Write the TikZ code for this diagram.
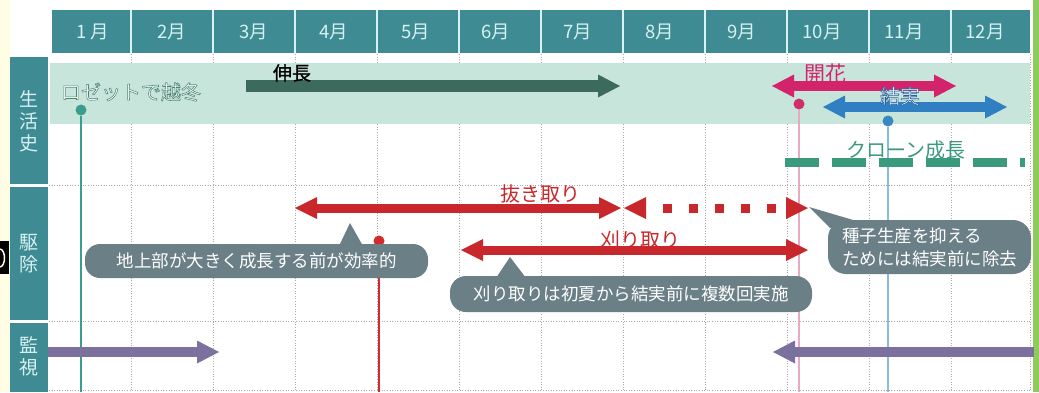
\documentclass[tikz,border=0pt]{standalone}
\usepackage{fontspec}
\newfontfamily\jp{Noto Sans CJK JP}
\newfontfamily\jpb[FakeBold=1.2]{Noto Sans CJK JP}
\usetikzlibrary{arrows.meta}
\definecolor{hdr}{HTML}{3F8B93}
\definecolor{hdrtxt}{HTML}{D6F1F2}
\definecolor{hdrsep}{HTML}{D8F4F6}
\definecolor{band}{HTML}{C8E5DC}
\definecolor{growc}{HTML}{3C6A5D}
\definecolor{pinkc}{HTML}{D3246B}
\definecolor{bluec}{HTML}{2F7FC2}
\definecolor{clonec}{HTML}{3B9A7C}
\definecolor{redc}{HTML}{C8282B}
\definecolor{callc}{HTML}{6B7F87}
\definecolor{purc}{HTML}{7B709E}
\definecolor{gridc}{HTML}{ABABAB}
\definecolor{tealline}{HTML}{3A9E8E}
\definecolor{pinkline}{HTML}{E9A9C2}
\definecolor{pinkdot}{HTML}{D0306A}
\definecolor{blueline}{HTML}{86BCDD}
\definecolor{bluedot}{HTML}{3A88C0}
\definecolor{reddot}{HTML}{D42A2A}
\definecolor{yel}{HTML}{FFFDE3}
\definecolor{rgreen}{HTML}{8DCB5C}
\newcommand\olstroke[2]{\special{pdf:literal direct 2 Tr #2 w #1 RG}}
\newcommand\olreset{\special{pdf:literal direct 0 Tr}}
\begin{document}
\begin{tikzpicture}[x=1pt,y=-1pt,
  grid/.style={gridc, line width=0.9pt, dash pattern=on 1pt off 1.6pt},
  sepline/.style={hdrsep, line width=2pt},
  month/.style={text=hdrtxt, font=\jp\fontsize{18.5}{18.5}\selectfont, inner sep=0pt},
  lbl/.style={text=hdrtxt, align=center, inner sep=0pt, font=\jp\fontsize{19}{22}\selectfont},
  dot/.style={circle, inner sep=0pt, minimum size=11pt},
  vline/.style={line width=1.4pt},
  blk/.style={line width=#1, arrows={-Triangle[width=23pt,length=22pt,line width=0pt]}},
  dblk/.style={line width=#1, arrows={Triangle[width=23pt,length=22pt,line width=0pt]-Triangle[width=23pt,length=22pt,line width=0pt]}},
  rdblk/.style={line width=#1, arrows={Triangle[width=22pt,length=22pt,line width=0pt]-Triangle[width=22pt,length=22pt,line width=0pt]}},
  txt/.style={inner sep=0pt, font=\jp\fontsize{20}{20}\selectfont},
  callout/.style={fill=callc, text=white, inner sep=0pt, font=\jp\fontsize{17.5}{23}\selectfont},
  ptr/.style={fill=callc}
]
\useasboundingbox (0,0) rectangle (1039,392);
\fill[white] (0,0) rectangle (1039,392);
\fill[yel] (0,0) rectangle (10,392);
\fill[rgreen] (1033,0) rectangle (1039,392);
\fill[black] (0,241) rectangle (9,274);
\draw[yel,line width=1.5pt] (0,249) .. controls (6,250) and (6,266) .. (0,267);

% header
\fill[hdr] (52,10) rectangle (1030,53);
\foreach \x in {131,213,...,951} \draw[sepline] (\x,10) -- (\x,53);
\node[month] (m1) at (93,32) {1 月};
\node[month] (m2) at (172,32) {2月};
\node[month] (m3) at (254,32) {3月};
\node[month] (m4) at (334,32) {4月};
\node[month] (m5) at (416,32) {5月};
\node[month] (m6) at (496,32) {6月};
\node[month] (m7) at (578,32) {7月};
\node[month] (m8) at (660,32) {8月};
\node[month] (m9) at (742,32) {9月};
\node[month] (m10) at (822,32) {10月};
\node[month] (m11) at (904,32) {11月};
\node[month] (m12) at (985,32) {12月};

% label column
\fill[hdr] (10,57) rectangle (48,184);
\fill[hdr] (10,187) rectangle (48,320);
\fill[hdr] (10,323) rectangle (48,392);
\node[lbl] (l1) at (29,121) {生\\活\\史};
\node[lbl] (l2) at (29,254) {駆\\除};
\node[lbl] (l3) at (29,356) {監\\視};

% grid
\foreach \x in {131,213,...,951} \draw[grid] (\x,54) -- (\x,392);
\draw[grid] (1030,54) -- (1030,392);
\draw[grid] (49,185) -- (1030,185);
\draw[grid] (49,321) -- (1030,321);
\draw[grid] (49,390) -- (1030,390);

% band
\fill[band] (50,63) rectangle (1030,124);

% vertical markers
\coordinate (e1) at (81,392);
\coordinate (e2) at (799,392);
\coordinate (e3) at (888,392);
\coordinate (e4) at (379,392);
\node[dot, fill=tealline] (d1) at (81,110) {};
\node[dot, fill=pinkdot] (d2) at (799,104) {};
\node[dot, fill=bluedot] (d3) at (888,121) {};
\node[dot, fill=reddot] (d4) at (379,241) {};
\draw[vline, tealline] (d1) -- (e1);
\draw[vline, pinkline] (d2) -- (e2);
\draw[vline, blueline] (d3) -- (e3);
\draw[vline, reddot] (d4) -- (e4);

% arrows
\coordinate (g1) at (246,86); \coordinate (g2) at (620,86);
\draw[blk=12pt, growc] (g1) -- (g2);
\coordinate (p1) at (772,86); \coordinate (p2) at (956,86);
\draw[dblk=10pt, pinkc] (p1) -- (p2);
\coordinate (b1) at (823,107); \coordinate (b2) at (1007,107);
\draw[dblk=10pt, bluec] (b1) -- (b2);
\coordinate (c1a) at (785,162); \coordinate (c1b) at (1025,162);
\draw[clonec, line width=9pt, dash pattern=on 34pt off 13pt] (c1a) -- (c1b);

\coordinate (r1) at (295,208); \coordinate (r2) at (621,208);
\draw[rdblk=9pt, redc] (r1) -- (r2);
\coordinate (r3) at (624,208); \coordinate (r4) at (808,208);
\draw[rdblk=9pt, redc, dash pattern=on 9pt off 17pt, dash phase=9pt] (r3) -- (r4);
\coordinate (r5) at (461,250); \coordinate (r6) at (808,250);
\draw[rdblk=9pt, redc] (r5) -- (r6);

\coordinate (v1) at (48,352); \coordinate (v2) at (219,352);
\draw[blk=10pt, purc] (v1) -- (v2);
\coordinate (v3) at (1034,352); \coordinate (v4) at (773,352);
\draw[blk=10pt, purc] (v3) -- (v4);

% callouts
\fill[ptr] (339,246) -- (350,223) -- (363,246) -- cycle;
\node[callout, rounded corners=15pt, minimum width=343pt, minimum height=34pt] (k1) at (256.5,261) {地上部が大きく成長する前が効率的};
\fill[ptr] (496,278) -- (510,257) -- (526,278) -- cycle;
\node[callout, rounded corners=16pt, minimum width=362pt, minimum height=36pt] (k2) at (631,294) {刈り取りは初夏から結実前に複数回実施};
\fill[ptr] (830,228) -- (809,207) -- (860,222) -- cycle;
\node[callout, align=left, rounded corners=18pt, minimum width=203pt, minimum height=54pt] (k3) at (929.5,247) {種子生産を抑える\\ためには結実前に除去};

% texts
\node[txt, text=black, font=\jpb\fontsize{19}{19}\selectfont] (tg) at (292,73) {伸長};
\node[txt, text=white] (tr) at (131,92) {\olstroke{0.30 0.52 0.47}{0.55}ロゼットで越冬\olreset};
\node[txt, text=pinkc, font=\jp\fontsize{21}{21}\selectfont] (tp) at (825,74) {開花};
\node[txt, text=white] (tb) at (900,96) {\olstroke{0.15 0.38 0.62}{0.55}結実\olreset};
\node[txt, text=clonec] (tc) at (906,150) {クローン成長};
\node[txt, text=redc] (tn) at (540,194) {抜き取り};
\node[txt, text=redc] (tk) at (640,240) {刈り取り};
\end{tikzpicture}
\end{document}
